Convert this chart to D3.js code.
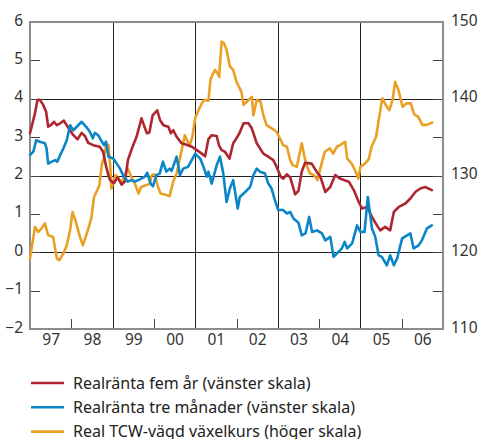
<!DOCTYPE html>
<html>
<head>
<meta charset="utf-8">
<script src="https://cdn.jsdelivr.net/npm/d3@7/dist/d3.min.js"></script>
<style>
  body { margin: 0; background: #fff; }
  svg { display: block; font-family: "Noto Sans", sans-serif; }
</style>
</head>
<body>
<div id="chart"></div>
<script>
// Year labels sit in the middle of each year
const yearLabels = ['97', '98', '99', '00', '01', '02', '03', '04', '05', '06'];
const leftTicks = [-2, -1, 0, 1, 2, 3, 4, 5, 6];
const rightTicks = [110, 120, 130, 140, 150];
const rightMinor = [115, 125, 135, 145];

// [decimal year, percent] - left scale
const fiveYear = [
  [1997.00, 3.10], [1997.12, 3.62], [1997.18, 3.97], [1997.24, 3.97], [1997.32, 3.84],
  [1997.39, 3.66], [1997.44, 3.27], [1997.50, 3.31], [1997.58, 3.40], [1997.65, 3.31],
  [1997.73, 3.36], [1997.82, 3.43], [1997.89, 3.31], [1997.97, 3.18], [1998.05, 3.05],
  [1998.15, 2.94], [1998.25, 3.11], [1998.33, 3.03], [1998.41, 2.85], [1998.53, 2.79],
  [1998.69, 2.75], [1998.77, 2.62], [1998.84, 2.25], [1998.90, 2.00], [1998.94, 1.88],
  [1999.03, 1.80], [1999.12, 1.95], [1999.22, 1.76], [1999.30, 1.85], [1999.37, 2.40],
  [1999.47, 2.71], [1999.58, 3.01], [1999.70, 3.49], [1999.83, 3.10], [1999.89, 3.12],
  [1999.97, 3.57], [2000.08, 3.70], [2000.15, 3.44], [2000.23, 3.31], [2000.35, 3.27],
  [2000.41, 3.10], [2000.47, 3.18], [2000.55, 3.01], [2000.67, 2.84], [2000.79, 2.80],
  [2000.92, 2.75], [2001.04, 2.66], [2001.16, 2.57], [2001.24, 2.50], [2001.32, 2.95],
  [2001.40, 3.05], [2001.52, 3.03], [2001.58, 2.77], [2001.64, 2.66], [2001.72, 2.62],
  [2001.83, 2.44], [2001.92, 2.84], [2002.00, 2.97], [2002.08, 3.12], [2002.17, 3.36],
  [2002.29, 3.36], [2002.37, 3.23], [2002.49, 2.84], [2002.65, 2.57], [2002.77, 2.49],
  [2002.89, 2.40], [2002.97, 2.23], [2003.07, 1.97], [2003.13, 1.92], [2003.22, 2.03],
  [2003.30, 1.95], [2003.42, 1.51], [2003.50, 1.60], [2003.58, 2.10], [2003.66, 2.33],
  [2003.82, 2.31], [2003.94, 2.10], [2004.03, 1.97], [2004.15, 1.57], [2004.27, 1.70],
  [2004.39, 2.01], [2004.51, 1.92], [2004.60, 1.88], [2004.72, 1.84], [2004.84, 1.62],
  [2004.96, 1.31], [2005.04, 1.14], [2005.16, 1.18], [2005.28, 0.92], [2005.40, 0.70],
  [2005.48, 0.57], [2005.60, 0.66], [2005.72, 0.57], [2005.81, 1.05], [2005.93, 1.18],
  [2006.09, 1.27], [2006.21, 1.40], [2006.33, 1.57], [2006.45, 1.66], [2006.57, 1.70],
  [2006.73, 1.62]
];

const threeMonth = [
  [1997.00, 2.53], [1997.08, 2.62], [1997.15, 2.92], [1997.24, 2.88], [1997.36, 2.84],
  [1997.40, 2.71], [1997.44, 2.31], [1997.53, 2.36], [1997.61, 2.40], [1997.66, 2.36],
  [1997.73, 2.53], [1997.81, 2.71], [1997.89, 2.92], [1997.97, 3.31], [1998.05, 3.18],
  [1998.15, 3.29], [1998.25, 3.40], [1998.36, 3.27], [1998.45, 3.14], [1998.52, 2.97],
  [1998.57, 3.11], [1998.65, 3.05], [1998.74, 2.88], [1998.79, 2.79], [1998.84, 2.88],
  [1998.90, 2.49], [1999.02, 2.44], [1999.10, 2.31], [1999.18, 2.18], [1999.26, 1.99],
  [1999.37, 1.84], [1999.45, 1.88], [1999.54, 1.84], [1999.66, 1.90], [1999.78, 1.97],
  [1999.84, 2.07], [1999.92, 1.79], [1999.98, 1.72], [2000.06, 2.01], [2000.14, 2.05],
  [2000.22, 2.36], [2000.30, 2.10], [2000.38, 2.18], [2000.43, 2.12], [2000.55, 2.49],
  [2000.63, 2.01], [2000.71, 2.18], [2000.83, 2.23], [2001.00, 2.57], [2001.12, 2.44],
  [2001.20, 2.23], [2001.28, 1.97], [2001.32, 2.10], [2001.40, 1.79], [2001.52, 2.27],
  [2001.60, 2.49], [2001.68, 2.05], [2001.76, 1.31], [2001.84, 1.66], [2001.92, 1.88],
  [2002.03, 1.14], [2002.08, 1.44], [2002.21, 1.57], [2002.33, 1.70], [2002.41, 2.01],
  [2002.49, 2.18], [2002.57, 2.10], [2002.69, 2.05], [2002.77, 1.79], [2002.85, 1.66],
  [2002.93, 1.36], [2003.01, 1.10], [2003.13, 1.10], [2003.22, 1.01], [2003.30, 1.05],
  [2003.38, 0.88], [2003.50, 0.77], [2003.58, 0.44], [2003.67, 0.49], [2003.76, 0.92],
  [2003.83, 0.53], [2003.95, 0.57], [2004.07, 0.49], [2004.15, 0.31], [2004.27, 0.40],
  [2004.35, -0.12], [2004.47, 0.01], [2004.55, 0.10], [2004.62, 0.27], [2004.68, 0.10],
  [2004.80, 0.23], [2004.92, 0.70], [2005.00, 0.53], [2005.10, 0.53], [2005.18, 1.44],
  [2005.28, 0.62], [2005.36, 0.40], [2005.44, -0.08], [2005.52, -0.12], [2005.64, -0.34],
  [2005.72, -0.08], [2005.81, -0.34], [2005.89, -0.16], [2006.01, 0.36], [2006.13, 0.44],
  [2006.21, 0.49], [2006.29, 0.10], [2006.41, 0.18], [2006.49, 0.31], [2006.61, 0.62],
  [2006.73, 0.70]
];

// [decimal year, index] - right scale
const tcwIndex = [
  [1997.00, 119.2], [1997.12, 123.3], [1997.20, 122.65], [1997.28, 123.1], [1997.36, 123.75],
  [1997.44, 122.2], [1997.56, 122.0], [1997.65, 119.2], [1997.71, 118.95], [1997.81, 119.85],
  [1997.89, 120.9], [1997.97, 122.85], [1998.03, 125.25], [1998.11, 123.95], [1998.21, 122.0],
  [1998.28, 120.9], [1998.36, 122.2], [1998.45, 123.75], [1998.49, 124.6], [1998.55, 127.2],
  [1998.63, 128.1], [1998.68, 128.75], [1998.74, 131.5], [1998.79, 132.25], [1998.84, 133.9],
  [1998.90, 134.0], [1998.94, 131.5], [1998.97, 128.3], [1999.07, 130.05], [1999.13, 129.75],
  [1999.21, 128.95], [1999.31, 130.25], [1999.37, 130.9], [1999.45, 129.85], [1999.52, 129.2],
  [1999.63, 127.65], [1999.69, 128.5], [1999.82, 128.75], [1999.90, 128.95], [1999.95, 130.05],
  [2000.02, 130.15], [2000.10, 128.5], [2000.16, 127.65], [2000.30, 127.45], [2000.38, 127.3],
  [2000.47, 129.25], [2000.55, 130.25], [2000.59, 131.25], [2000.63, 132.25], [2000.70, 134.0],
  [2000.75, 135.25], [2000.81, 134.5], [2000.87, 134.0], [2000.93, 135.0], [2001.00, 137.5],
  [2001.08, 138.5], [2001.16, 139.4], [2001.22, 139.85], [2001.32, 139.75], [2001.37, 142.5],
  [2001.43, 143.25], [2001.48, 143.75], [2001.55, 143.25], [2001.58, 142.85], [2001.64, 147.45],
  [2001.70, 147.2], [2001.76, 146.35], [2001.84, 144.2], [2001.92, 143.75], [2002.00, 142.2],
  [2002.06, 141.55], [2002.12, 140.9], [2002.17, 139.2], [2002.25, 139.6], [2002.37, 140.25],
  [2002.41, 137.85], [2002.49, 139.85], [2002.58, 139.65], [2002.65, 137.85], [2002.73, 136.55],
  [2002.85, 136.15], [2002.97, 135.7], [2003.05, 134.85], [2003.13, 133.95], [2003.22, 133.75],
  [2003.30, 132.0], [2003.36, 131.35], [2003.46, 131.15], [2003.58, 134.2], [2003.63, 132.85],
  [2003.68, 131.55], [2003.78, 130.25], [2003.88, 130.05], [2003.96, 129.4], [2004.06, 131.55],
  [2004.14, 133.1], [2004.26, 133.55], [2004.34, 132.85], [2004.43, 133.75], [2004.51, 133.95],
  [2004.63, 134.4], [2004.68, 132.2], [2004.79, 131.55], [2004.87, 130.7], [2004.95, 129.6],
  [2005.00, 131.15], [2005.11, 131.55], [2005.20, 132.1], [2005.27, 133.75], [2005.38, 135.05],
  [2005.47, 138.1], [2005.53, 140.05], [2005.64, 138.95], [2005.70, 138.5], [2005.78, 139.85],
  [2005.84, 142.2], [2005.92, 141.15], [2006.02, 138.95], [2006.12, 139.4], [2006.22, 139.4],
  [2006.30, 138.0], [2006.40, 137.65], [2006.50, 136.6], [2006.61, 136.6], [2006.74, 136.9]
];

const legendLabels = [
  'Realränta fem år (vänster skala)',
  'Realränta tre månader (vänster skala)',
  'Real TCW-vägd växelkurs (höger skala)'
];

const colors = { five: '#ad2630', three: '#0a85c8', tcw: '#e9a024' };

const width = 480;
const height = 439;
const plotLeft = 30, plotRight = 443, plotTop = 22, plotBottom = 329;

const svg = d3.select('#chart')
  .append('svg')
  .attr('width', width)
  .attr('height', height);

const x = d3.scaleLinear().domain([1997, 2007]).range([plotLeft, plotRight]);
const yL = d3.scaleLinear().domain([-2, 6]).range([plotBottom, plotTop]);
const yR = d3.scaleLinear().domain([110, 150]).range([plotBottom, plotTop]);

const crisp = v => Math.round(v) + 0.5;

// Gridlines
const grid = svg.append('g').attr('stroke', '#222').attr('stroke-width', 1);
grid.selectAll('line.h')
  .data([0, 2, 4])
  .join('line')
  .attr('x1', plotLeft).attr('x2', plotRight)
  .attr('y1', d => crisp(yL(d))).attr('y2', d => crisp(yL(d)));
grid.selectAll('line.v')
  .data([1999, 2001, 2003, 2005])
  .join('line')
  .attr('y1', plotTop).attr('y2', plotBottom)
  .attr('x1', d => crisp(x(d))).attr('x2', d => crisp(x(d)));

// Inner ticks
const ticks = svg.append('g').attr('stroke', '#444').attr('stroke-width', 1);
ticks.selectAll('line.l')
  .data(leftTicks)
  .join('line')
  .attr('x1', plotLeft).attr('x2', plotLeft + 10)
  .attr('y1', d => crisp(yL(d))).attr('y2', d => crisp(yL(d)));
ticks.selectAll('line.r')
  .data(rightTicks.concat(rightMinor))
  .join('line')
  .attr('x1', plotRight - 10).attr('x2', plotRight)
  .attr('y1', d => crisp(yR(d))).attr('y2', d => crisp(yR(d)));
ticks.selectAll('line.b')
  .data([1998, 2000, 2002, 2004, 2006])
  .join('line')
  .attr('y1', plotBottom - 10).attr('y2', plotBottom)
  .attr('x1', d => crisp(x(d))).attr('x2', d => crisp(x(d)));

// Frame
svg.append('rect')
  .attr('x', plotLeft).attr('y', plotTop)
  .attr('width', plotRight - plotLeft).attr('height', plotBottom - plotTop)
  .attr('fill', 'none')
  .attr('stroke', '#8c8c8c')
  .attr('stroke-width', 2);

// Series
const line = (yScale) => d3.line()
  .x(d => x(d[0]))
  .y(d => yScale(d[1]));

const series = [
  { data: tcwIndex, scale: yR, color: colors.tcw },
  { data: fiveYear, scale: yL, color: colors.five },
  { data: threeMonth, scale: yL, color: colors.three }
];
svg.append('g')
  .selectAll('path')
  .data(series)
  .join('path')
  .attr('d', d => line(d.scale)(d.data))
  .attr('fill', 'none')
  .attr('stroke', d => d.color)
  .attr('stroke-width', 2.6)
  .attr('stroke-linejoin', 'round')
  .attr('stroke-linecap', 'round');

// Axis labels
const labelStyle = g => {
  g.select('.domain').remove();
  g.selectAll('text')
    .attr('fill', '#333')
    .attr('font-size', 15.5)
    .attr('font-family', '"Noto Sans", sans-serif');
};

svg.append('g')
  .attr('transform', `translate(${plotLeft},0)`)
  .call(d3.axisLeft(yL).tickValues(leftTicks).tickSize(0).tickPadding(7).tickFormat(d3.format('d')))
  .call(labelStyle)
  .selectAll('text').attr('dy', '0.2em');

svg.append('g')
  .attr('transform', `translate(${plotRight},0)`)
  .call(d3.axisRight(yR).tickValues(rightTicks).tickSize(0).tickPadding(8))
  .call(labelStyle)
  .selectAll('text').attr('dy', '0.2em');

svg.append('g')
  .attr('transform', `translate(0,${plotBottom})`)
  .call(d3.axisBottom(x)
    .tickValues(yearLabels.map((_, i) => 1997.5 + i))
    .tickSize(0).tickPadding(5)
    .tickFormat((d, i) => yearLabels[i]))
  .call(labelStyle);

// Legend
const legend = svg.append('g')
  .selectAll('g')
  .data([colors.five, colors.three, colors.tcw])
  .join('g')
  .attr('transform', (d, i) => `translate(31,${383 + i * 24.3})`);
legend.append('line')
  .attr('x1', 0).attr('x2', 33)
  .attr('stroke', d => d)
  .attr('stroke-width', 2.6);
legend.append('text')
  .attr('x', 42)
  .attr('dy', '0.35em')
  .attr('font-size', 16)
  .attr('fill', '#222')
  .text((d, i) => legendLabels[i]);
</script>
</body>
</html>
